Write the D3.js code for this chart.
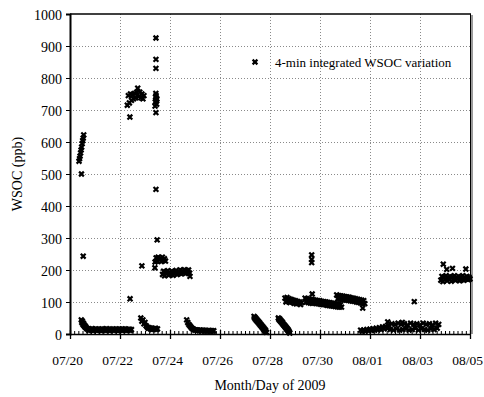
<!DOCTYPE html>
<html>
<head>
<meta charset="utf-8">
<script src="https://cdn.jsdelivr.net/npm/d3@7"></script>
<style>
  body { margin: 0; background: #fff; }
  svg { display: block; font-family: "Liberation Serif", "Times New Roman", serif; }
  .grid line { stroke: #8a8a8a; stroke-dasharray: 1,2; stroke-width: 1; }
  .axis path, .axis line { stroke: #000; }
  .axis text { font-family: "Liberation Serif", serif; fill: #000; }
</style>
</head>
<body>
<div id="chart"></div>
<script>
// 4-min WSOC runs (values in ppb)
const highJul20   = [540, 548, 556, 566, 575, 584, 595, 604, 612, 622]
const lowJul20a   = [44, 36, 40, 30, 34, 26, 28, 22, 24, 20, 18, 16]
const lowJul20b   = [16, 11, 15, 12, 17, 10, 14, 13, 16, 11, 15, 12, 14, 10, 16, 12, 15, 11, 17, 12, 14, 10, 15, 13, 16, 11, 14, 12, 15, 10, 16, 12, 14, 11, 15, 13, 16, 11, 14, 12, 15, 11, 14]
const highJul22   = [715, 745, 722, 750, 730, 748, 735, 752, 738, 755, 768, 742, 756, 738, 750, 735, 745]
const lowJul23    = [50, 40, 44, 32, 36, 26, 22, 18, 20, 16, 18, 14, 17, 15, 18, 14, 16]
const highJul23   = [712, 725, 740, 752, 745, 730, 718, 735]
const midJul23    = [225, 238, 228, 240, 232, 236, 226, 240, 230, 235, 228]
const midJul24    = [186, 196, 182, 194, 188, 198, 184, 192, 186, 196, 183, 195, 189, 199, 186, 194, 190, 200, 188, 197, 192, 201, 189, 198, 193, 200, 190]
const lowJul25    = [44, 36, 30, 26, 22, 18, 16, 14, 12, 13, 11, 12, 10, 12, 11, 10, 12, 9, 11, 10, 9, 11, 10, 9, 10, 9, 10]
const lowJul27    = [55, 50, 52, 46, 48, 42, 44, 38, 40, 34, 36, 30, 32, 26, 28, 22, 24, 18, 20, 14, 16, 10, 12, 6, 5]
const lowJul28    = [50, 46, 48, 42, 44, 38, 40, 34, 36, 30, 31, 26, 27, 22, 23, 18, 19, 14, 15, 10, 10, 6, 3]
const midJul28    = [112, 100, 114, 102, 110, 98, 108, 100, 106, 96, 104, 94, 102, 96, 100, 92, 98]
const midJul29    = [112, 100, 110, 98, 109, 97, 108, 96, 107, 97, 106, 95, 104, 94, 104, 93, 102, 92, 101, 92, 100, 90, 99, 89, 98, 88, 96, 87, 95, 86, 94, 85, 93, 84, 92, 84]
const midJul30    = [122, 110, 120, 109, 119, 108, 118, 107, 117, 106, 116, 105, 115, 104, 113, 103, 112, 102, 110, 100, 109, 99, 107, 97, 106, 96, 104, 95]
const lowAug01    = [12, 8, 13, 9, 14, 10, 15, 11, 17, 12, 18, 13, 20, 14, 22, 16, 24, 18, 26, 14, 32, 12, 30, 16, 34, 12, 30, 14, 32, 16, 28, 12, 34, 14, 30, 18, 32, 12, 28, 16, 34, 14, 30, 12, 32, 16, 28, 14, 34, 18, 30]
const midAug04    = [168, 180, 164, 178, 170, 182, 166, 176, 172, 180, 165, 178, 170, 182, 168, 176, 172, 180, 166, 178, 170, 182, 168, 176, 172, 180, 170, 178, 172]

// run start, sampling step (hours), values
const runs = [
  ['2009-07-20T08:40', 0.5, highJul20],
  ['2009-07-20T10:50', 0.5, lowJul20a],
  ['2009-07-20T17:00', 1,   lowJul20b],
  ['2009-07-22T07:00', 1,   highJul22],
  ['2009-07-22T20:00', 1,   lowJul23],
  ['2009-07-23T09:40', 0.25, highJul23],
  ['2009-07-23T09:40', 1,   midJul23],
  ['2009-07-23T16:50', 1,   midJul24],
  ['2009-07-24T16:00', 1,   lowJul25],
  ['2009-07-27T08:40', 0.5, lowJul27],
  ['2009-07-28T08:00', 0.5, lowJul28],
  ['2009-07-28T14:20', 1,   midJul28],
  ['2009-07-29T09:40', 1,   midJul29],
  ['2009-07-30T16:00', 1,   midJul30],
  ['2009-07-31T15:00', 1.5, lowAug01],
  ['2009-08-03T20:00', 1,   midAug04]
]

// isolated spikes
const spikeTimes  = ['2009-07-20T11:00', '2009-07-20T12:40', '2009-07-22T09:30', '2009-07-22T09:40',
                     '2009-07-22T21:00', '2009-07-23T10:30', '2009-07-23T10:30', '2009-07-23T10:30',
                     '2009-07-23T10:30', '2009-07-23T10:30', '2009-07-23T11:40', '2009-07-23T09:30',
                     '2009-07-24T19:10', '2009-07-29T16:00', '2009-07-29T16:00', '2009-07-29T16:00',
                     '2009-07-29T16:30', '2009-07-31T17:00', '2009-08-01T17:00', '2009-08-02T07:00',
                     '2009-08-02T18:30', '2009-08-03T22:20', '2009-08-04T01:40', '2009-08-04T07:10',
                     '2009-08-04T20:00']
const spikeValues = [500, 243, 678, 110,
                     213, 925, 858, 830,
                     692, 452, 294, 207,
                     180, 247, 233, 223,
                     125, 81, 38, 36,
                     101, 218, 202, 205,
                     203]

const xTickFormat = '%m/%d'
const yTicks = [0, 100, 200, 300, 400, 500, 600, 700, 800, 900, 1000]
const legendLabel = '4-min integrated WSOC variation'
const xTitle = 'Month/Day of 2009'
const yTitle = 'WSOC (ppb)'

const width = 484
const height = 397
const margin = { left: 70, right: 14, top: 14, bottom: 63 }

const parse = d3.timeParse('%Y-%m-%dT%H:%M')

const points = []
runs.forEach(([start, step, values]) => {
  const t0 = parse(start)
  values.forEach((v, i) => points.push({ t: d3.timeMinute.offset(t0, Math.round(i * step * 60)), v }))
})
spikeTimes.forEach((s, i) => points.push({ t: parse(s), v: spikeValues[i] }))

const svg = d3.select('#chart')
  .append('svg')
  .attr('width', width)
  .attr('height', height)

const tStart = new Date(2009, 6, 20)
const tEnd = new Date(2009, 7, 5)

const x = d3.scaleTime()
  .domain([tStart, tEnd])
  .range([margin.left, width - margin.right])

const y = d3.scaleLinear()
  .domain([0, 1000])
  .range([height - margin.bottom, margin.top])

// every second day counted from 07/20 (07/30 -> 08/01 across month end)
const majorDays = d3.timeDay.range(tStart, d3.timeDay.offset(tEnd, 1)).filter((d, i) => i % 2 === 0)

// grid
const grid = svg.append('g').attr('class', 'grid')
grid.selectAll('.gy')
  .data(yTicks.slice(1, -1))
  .join('line')
  .attr('x1', x.range()[0]).attr('x2', x.range()[1])
  .attr('y1', d => y(d) + 0.5).attr('y2', d => y(d) + 0.5)
grid.selectAll('.gx')
  .data(majorDays.slice(1, -1))
  .join('line')
  .attr('x1', d => Math.round(x(d)) + 0.5).attr('x2', d => Math.round(x(d)) + 0.5)
  .attr('y1', y.range()[1]).attr('y2', y.range()[0])

// frame: top & right black, left grey
svg.append('line')
  .attr('x1', x.range()[0]).attr('x2', x.range()[1] + 1)
  .attr('y1', y(1000)).attr('y2', y(1000))
  .attr('stroke', '#000').attr('stroke-width', 1.5)
svg.append('line')
  .attr('x1', x.range()[1] + 0.5).attr('x2', x.range()[1] + 0.5)
  .attr('y1', y(1000)).attr('y2', y(0))
  .attr('stroke', '#000').attr('stroke-width', 1)
svg.append('line')
  .attr('x1', x.range()[1] + 2).attr('x2', x.range()[1] + 2)
  .attr('y1', y(1000) + 1).attr('y2', y(0))
  .attr('stroke', '#9a9a9a').attr('stroke-width', 2)

// points
const cross = 'M-2.4,-2.4L2.4,2.4M-2.4,2.4L2.4,-2.4'
svg.append('g')
  .selectAll('path')
  .data(points)
  .join('path')
  .attr('transform', d => `translate(${x(d.t)},${y(d.v)})`)
  .attr('d', cross)
  .attr('stroke', '#000')
  .attr('stroke-width', 2.2)
  .attr('fill', 'none')

// left axis
const yAxis = svg.append('g')
  .attr('class', 'axis')
  .attr('transform', `translate(${margin.left},0)`)
  .call(d3.axisLeft(y).tickValues(yTicks).tickFormat(d3.format('d')).tickSize(4).tickPadding(4))
yAxis.select('.domain').attr('stroke', '#808080').attr('stroke-width', 2)
yAxis.selectAll('text').attr('font-size', 14).attr('dy', '0.36em')

// bottom axis: minor ticks inside, major ticks outside
svg.append('g')
  .attr('class', 'axis')
  .attr('transform', `translate(0,${y(0)})`)
  .call(d3.axisBottom(x).ticks(d3.timeHour.every(4)).tickSize(-3).tickFormat(''))
  .call(g => g.select('.domain').remove())

const xAxis = svg.append('g')
  .attr('class', 'axis')
  .attr('transform', `translate(0,${y(0)})`)
  .call(d3.axisBottom(x).tickValues(majorDays).tickFormat(d3.timeFormat(xTickFormat)).tickSizeInner(5).tickSizeOuter(0).tickPadding(16))
xAxis.select('.domain').attr('stroke-width', 1.5)
xAxis.selectAll('.tick line').attr('y1', -4).attr('stroke-width', 1.3)
xAxis.selectAll('text').attr('font-size', 13.5).attr('dx', -3)

// legend
svg.append('path')
  .attr('transform', `translate(255,62)`)
  .attr('d', cross)
  .attr('stroke', '#000')
  .attr('stroke-width', 2.2)
svg.append('text')
  .attr('x', 275).attr('y', 67)
  .attr('font-size', 13)
  .text(legendLabel)

// titles
svg.append('text')
  .attr('x', 270).attr('y', 390)
  .attr('text-anchor', 'middle')
  .attr('font-size', 14)
  .text(xTitle)
svg.append('text')
  .attr('transform', 'translate(22,174) rotate(-90)')
  .attr('text-anchor', 'middle')
  .attr('font-size', 14)
  .text(yTitle)
</script>
</body>
</html>
